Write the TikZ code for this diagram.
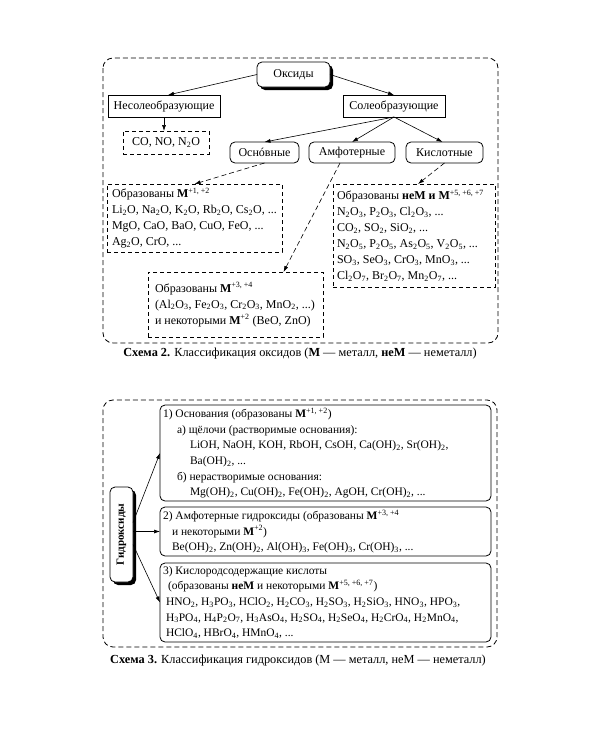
\documentclass[tikz,border=0pt]{standalone}
\usepackage{fontspec}
\setmainfont{Liberation Serif}
\usetikzlibrary{arrows.meta,shadows,calc}
\newcommand\mysub[1]{\textsubscript{#1}}
\newcommand\mysup[1]{\textsuperscript{#1}}
\newcommand\BM{\textbf{M}}
\begin{document}
\begin{tikzpicture}[x=1pt,y=-1pt,
  every node/.style={inner sep=0pt, outer sep=0pt},
  topf/.style={font=\fontsize{12}{16}\selectfont},
  capf/.style={font=\fontsize{12.3}{15}\selectfont},
  botf/.style={font=\fontsize{11.5}{15.6}\selectfont},
  sbox/.style={draw, line width=0.8pt, topf},
  rbox/.style={draw, line width=0.8pt, rounded corners=5pt, topf},
  dbox/.style={draw, line width=0.8pt, dash pattern=on 4pt off 3pt},
  shbox/.style={rbox, fill=white, drop shadow={shadow xshift=3pt, shadow yshift=-3pt, fill=black, opacity=1}},
  txt/.style={anchor=west, align=left},
  arr/.style={-{Latex[length=6pt,width=4pt]}, line width=0.6pt},
  darr/.style={arr, dash pattern=on 5pt off 3pt},
  frame/.style={draw, line width=0.8pt, dash pattern=on 5pt off 3pt, rounded corners=10pt}
]
\useasboundingbox (0,0) rectangle (600,750);
\fill[white] (0,0) rectangle (600,750);

% ---------- Scheme 2 ----------
\draw[frame] (103,58) rectangle (498,343);

\node[shbox, minimum width=73pt, minimum height=25pt] (oks) at (293.5,74.5) {Оксиды};
\node[sbox, minimum width=112pt, minimum height=22pt] (nesol) at (164,106) {Несолеобразующие};
\node[sbox, minimum width=102pt, minimum height=22pt] (sol) at (394,106) {Солеобразующие};
\node[dbox, topf, minimum width=86pt, minimum height=23pt] (co) at (166,142.5) {CO, NO, N\mysub{2}O};
\node[rbox, minimum width=69pt, minimum height=21pt] (osn) at (264.5,152.5) {Оснóвные};
\node[rbox, minimum width=86pt, minimum height=21pt] (amf) at (352,152.5) {Амфотерные};
\node[rbox, minimum width=77pt, minimum height=21pt] (kis) at (444.5,152.5) {Кислотные};

\node[dbox, minimum width=175pt, minimum height=68pt] (b12) at (194.5,218) {};
\node[txt, topf] (b12t) at ([xshift=5pt]b12.west) {Образованы \BM\mysup{+1, +2}\\
Li\mysub{2}O, Na\mysub{2}O, K\mysub{2}O, Rb\mysub{2}O, Cs\mysub{2}O, ...\\
MgO, CaO, BaO, CuO, FeO, ...\\
Ag\mysub{2}O, CrO, ...};

\node[dbox, minimum width=162pt, minimum height=103pt] (nem) at (414,235.5) {};
\node[txt, topf] (nemt) at ([xshift=4pt]nem.west) {Образованы \textbf{неM и M}\mysup{+5, +6, +7}\\
N\mysub{2}O\mysub{3}, P\mysub{2}O\mysub{3}, Cl\mysub{2}O\mysub{3}, ...\\
CO\mysub{2}, SO\mysub{2}, SiO\mysub{2}, ...\\
N\mysub{2}O\mysub{5}, P\mysub{2}O\mysub{5}, As\mysub{2}O\mysub{5}, V\mysub{2}O\mysub{5}, ...\\
SO\mysub{3}, SeO\mysub{3}, CrO\mysub{3}, MnO\mysub{3}, ...\\
Cl\mysub{2}O\mysub{7}, Br\mysub{2}O\mysub{7}, Mn\mysub{2}O\mysub{7}, ...};

\node[dbox, minimum width=175pt, minimum height=65pt] (b34) at (235.5,304.5) {};
\node[txt, topf] (b34t) at ([xshift=7pt]b34.west) {Образованы \BM\mysup{+3, +4}\\
(Al\mysub{2}O\mysub{3}, Fe\mysub{2}O\mysub{3}, Cr\mysub{2}O\mysub{3}, MnO\mysub{2}, ...)\\
и некоторыми \BM\mysup{+2} (BeO, ZnO)};

\draw[arr] (oks.west) -- ([xshift=4pt]nesol.north);
\draw[arr] (oks.east) -- (sol.north);
\draw[arr] (nesol.south) -- (nesol.south |- co.north);
\draw[arr] (sol.south) -- (osn.north);
\draw[arr] (sol.south) -- (amf.north);
\draw[arr] (sol.south) -- ([xshift=-2pt]kis.north);
\draw[darr] (osn.south) -- (b12.north);
\draw[darr] ([xshift=-12pt]amf.south) -- ([xshift=48pt]b34.north);
\draw[darr] (kis.south) -- ([xshift=4pt]nem.north);

\node[capf] (cap2) at (300,354) {\textbf{Схема 2.} Классификация оксидов (\textbf{M} — металл, \textbf{неM} — неметалл)};

% ---------- Scheme 3 ----------
\draw[frame] (103,400) rectangle (497,647);

\node[shbox, minimum width=23pt, minimum height=95pt] (gid) at (121.5,534.5) {\rotatebox{90}{\fontsize{11}{13}\selectfont\textbf{Гидроксиды}}};

\node[rbox, minimum width=331pt, minimum height=96pt] (b1) at (325.5,453) {};
\node[txt, botf] (b1t) at ([xshift=3pt]b1.west) {1) Основания (образованы \BM\mysup{+1, +2})\\
\hspace*{14pt}а) щёлочи (растворимые основания):\\
\hspace*{27pt}LiOH, NaOH, KOH, RbOH, CsOH, Ca(OH)\mysub{2}, Sr(OH)\mysub{2},\\
\hspace*{27pt}Ba(OH)\mysub{2}, ...\\
\hspace*{14pt}б) нерастворимые основания:\\
\hspace*{27pt}Mg(OH)\mysub{2}, Cu(OH)\mysub{2}, Fe(OH)\mysub{2}, AgOH, Cr(OH)\mysub{2}, ...};

\node[rbox, minimum width=331pt, minimum height=49pt] (b2) at (325.5,531.5) {};
\node[txt, botf] (b2t) at ([xshift=3pt]b2.west) {2) Амфотерные гидроксиды (образованы \BM\mysup{+3, +4}\\
\hspace*{9pt}и некоторыми \BM\mysup{+2})\\
\hspace*{9pt}Be(OH)\mysub{2}, Zn(OH)\mysub{2}, Al(OH)\mysub{3}, Fe(OH)\mysub{3}, Cr(OH)\mysub{3}, ...};

\node[rbox, minimum width=331pt, minimum height=79pt] (b3) at (325.5,602.5) {};
\node[txt, botf] (b3t) at ([xshift=3pt]b3.west) {3) Кислородсодержащие кислоты\\
\hspace*{5pt}(образованы \textbf{неM} и некоторыми \BM\mysup{+5, +6, +7})\\
\hspace*{3pt}HNO\mysub{2}, H\mysub{3}PO\mysub{3}, HClO\mysub{2}, H\mysub{2}CO\mysub{3}, H\mysub{2}SO\mysub{3}, H\mysub{2}SiO\mysub{3}, HNO\mysub{3}, HPO\mysub{3},\\
\hspace*{3pt}H\mysub{3}PO\mysub{4}, H\mysub{4}P\mysub{2}O\mysub{7}, H\mysub{3}AsO\mysub{4}, H\mysub{2}SO\mysub{4}, H\mysub{2}SeO\mysub{4}, H\mysub{2}CrO\mysub{4}, H\mysub{2}MnO\mysub{4},\\
\hspace*{3pt}HClO\mysub{4}, HBrO\mysub{4}, HMnO\mysub{4}, ...};

\draw[arr] ([yshift=12pt]gid.east) -- (b1.west);
\draw[arr] (gid.east |- b2.west) -- (b2.west);
\draw[arr] ([yshift=-10pt]gid.east) -- (b3.west);

\node[capf] (cap3) at (298,661) {\textbf{Схема 3.} Классификация гидроксидов (M — металл, неM — неметалл)};
\end{tikzpicture}
\end{document}
